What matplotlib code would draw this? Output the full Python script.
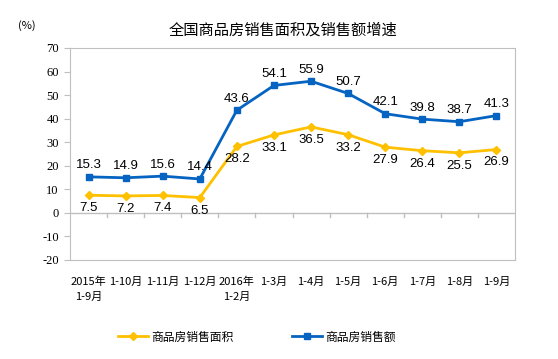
import matplotlib.pyplot as plt
import numpy as np

plt.rcParams['font.family'] = ['Noto Sans CJK SC', 'DejaVu Sans']

# Data
months = ["2015年\n1-9月", "1-10月", "1-11月", "1-12月", "2016年\n1-2月", "1-3月",
          "1-4月", "1-5月", "1-6月", "1-7月", "1-8月", "1-9月"]
area = [7.5, 7.2, 7.4, 6.5, 28.2, 33.1, 36.5, 33.2, 27.9, 26.4, 25.5, 26.9]
sales = [15.3, 14.9, 15.6, 14.4, 43.6, 54.1, 55.9, 50.7, 42.1, 39.8, 38.7, 41.3]

yellow = "#FFC000"
blue = "#0563C1"
grey = "#BFBFBF"

fig = plt.figure(figsize=(5.58, 3.59), dpi=100)
ax = fig.add_axes([70/558, 1 - 260/359, 445/558, 212/359])

x = np.arange(len(months))
ax.plot(x, area, color=yellow, lw=2, marker="D", ms=4.5, label="商品房销售面积")
ax.plot(x, sales, color=blue, lw=2, marker="s", ms=4.5, label="商品房销售额")

for xi, v in zip(x, area):
    ax.annotate(f"{v}", (xi, v), xytext=(0, -5), textcoords="offset points",
                ha="center", va="top", fontsize=9.5, family="Liberation Sans")
for xi, v in zip(x, sales):
    ax.annotate(f"{v}", (xi, v), xytext=(0, 4), textcoords="offset points",
                ha="center", va="bottom", fontsize=9.5, family="Liberation Sans")

ax.set_xlim(-0.5, len(months) - 0.5)
ax.set_ylim(-20, 70)
ax.set_yticks(range(-20, 71, 10))
ax.set_yticklabels([str(t) for t in range(-20, 71, 10)], family="Liberation Serif", fontsize=9)
ax.tick_params(axis="y", length=4, color=grey, pad=4)

ax.set_xticks(x)
ax.set_xticklabels(months, fontsize=8, linespacing=1.6)
ax.tick_params(axis="x", length=0, pad=12)
for s in ax.spines.values():
    s.set_color(grey)
ax.axhline(0, color=grey, lw=1)
for b in np.arange(0.5, len(months) - 1, 1):
    ax.plot([b, b], [0, -1.6], color=grey, lw=1)

fig.text(283/558, 1 - 30/359, "全国商品房销售面积及销售额增速", ha="center", va="center", fontsize=11)
fig.text(27/558, 1 - 26/359, "(%)", ha="center", va="center", fontsize=8)

fig.legend(loc="center", bbox_to_anchor=(257/558, 1 - 337/359), ncol=2, frameon=False,
           fontsize=8.5, columnspacing=5, handlelength=2.5, handletextpad=0.3)

fig.savefig("out.png", dpi=100)
